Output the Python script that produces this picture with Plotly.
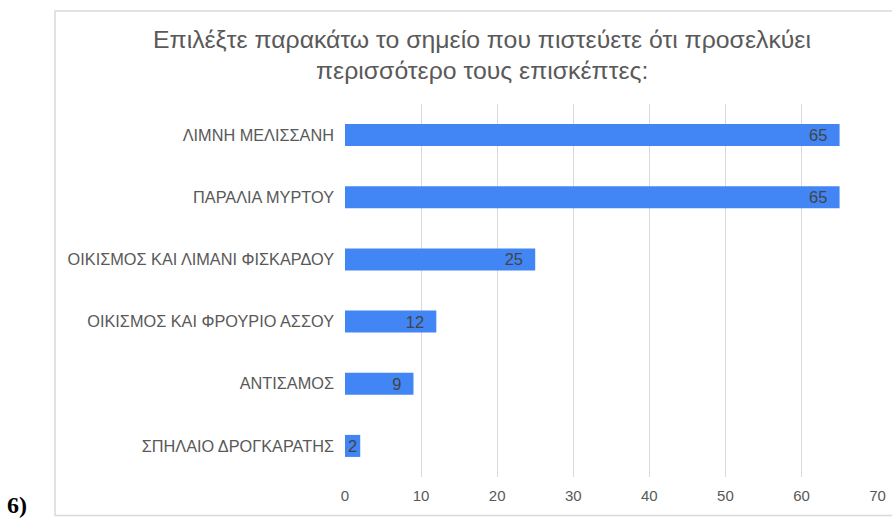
import plotly.graph_objects as go

categories = ["ΛΙΜΝΗ ΜΕΛΙΣΣΑΝΗ", "ΠΑΡΑΛΙΑ ΜΥΡΤΟΥ", "ΟΙΚΙΣΜΟΣ ΚΑΙ ΛΙΜΑΝΙ ΦΙΣΚΑΡΔΟΥ",
              "ΟΙΚΙΣΜΟΣ ΚΑΙ ΦΡΟΥΡΙΟ ΑΣΣΟΥ", "ΑΝΤΙΣΑΜΟΣ", "ΣΠΗΛΑΙΟ ΔΡΟΓΚΑΡΑΤΗΣ"]
values = [65, 65, 25, 12, 9, 2]
x_ticks = [0, 10, 20, 30, 40, 50, 60, 70]
title_lines = ["Επιλέξτε παρακάτω το σημείο που πιστεύετε ότι προσελκύει",
               "περισσότερο τους επισκέπτες:"]

W, H = 892, 521
L, R, T, B = 345, 14, 104, 44
pw, ph = W - L - R, H - T - B

def px(x):
    return (x - L) / pw

def py(y):
    return (H - B - y) / ph

labels = [f"{v}\u00a0\u00a0" if v > 5 else str(v) for v in values]

fig = go.Figure(go.Bar(
    y=categories, x=values, orientation="h",
    marker=dict(color="#4285F4", line=dict(width=0)),
    text=labels, textposition="inside", insidetextanchor="end",
    textangle=0, constraintext="none",
    textfont=dict(family="Liberation Sans, Arial", size=16.5, color="#444444"),
    hoverinfo="skip",
))

fig.update_layout(
    width=W, height=H,
    margin=dict(l=L, r=R, t=T, b=B, autoexpand=False),
    paper_bgcolor="white", plot_bgcolor="white",
    bargap=0.646,
    showlegend=False,
    font=dict(family="Liberation Sans, Arial", color="#595959"),
)
fig.update_xaxes(range=[0, 70.05], tickvals=x_ticks, showgrid=True, gridcolor="#d9d9d9",
                 gridwidth=1, zeroline=False, showline=False, automargin=False,
                 tickfont=dict(size=15, color="#595959"), ticks="", ticklabelstandoff=8)
fig.update_yaxes(autorange="reversed", showgrid=False, showline=False, zeroline=False,
                 automargin=False,
                 tickfont=dict(size=16.3, color="#595959"), ticks="", ticklabelstandoff=10)

# border box
fig.add_shape(type="rect", xref="paper", yref="paper",
              x0=px(55), x1=px(W + 5), y0=py(515.5), y1=py(11),
              line=dict(color="#d9d9d9", width=1.5), fillcolor="rgba(0,0,0,0)", layer="below")

for i, t in enumerate(title_lines):
    fig.add_annotation(text=t, xref="paper", yref="paper", x=px(482), y=py(39 + 32 * i),
                       showarrow=False, xanchor="center", yanchor="middle",
                       font=dict(family="Liberation Sans, Arial", size=24.8, color="#595959"))

fig.add_annotation(text="<b>6)</b>", xref="paper", yref="paper", x=px(5), y=py(505),
                   showarrow=False, xanchor="left", yanchor="middle",
                   font=dict(family="Liberation Serif, Times New Roman", size=24, color="black"))

fig.write_html("out.html", config={"displayModeBar": False},
               post_script="document.body.style.margin='0';document.body.style.overflow='hidden';")
